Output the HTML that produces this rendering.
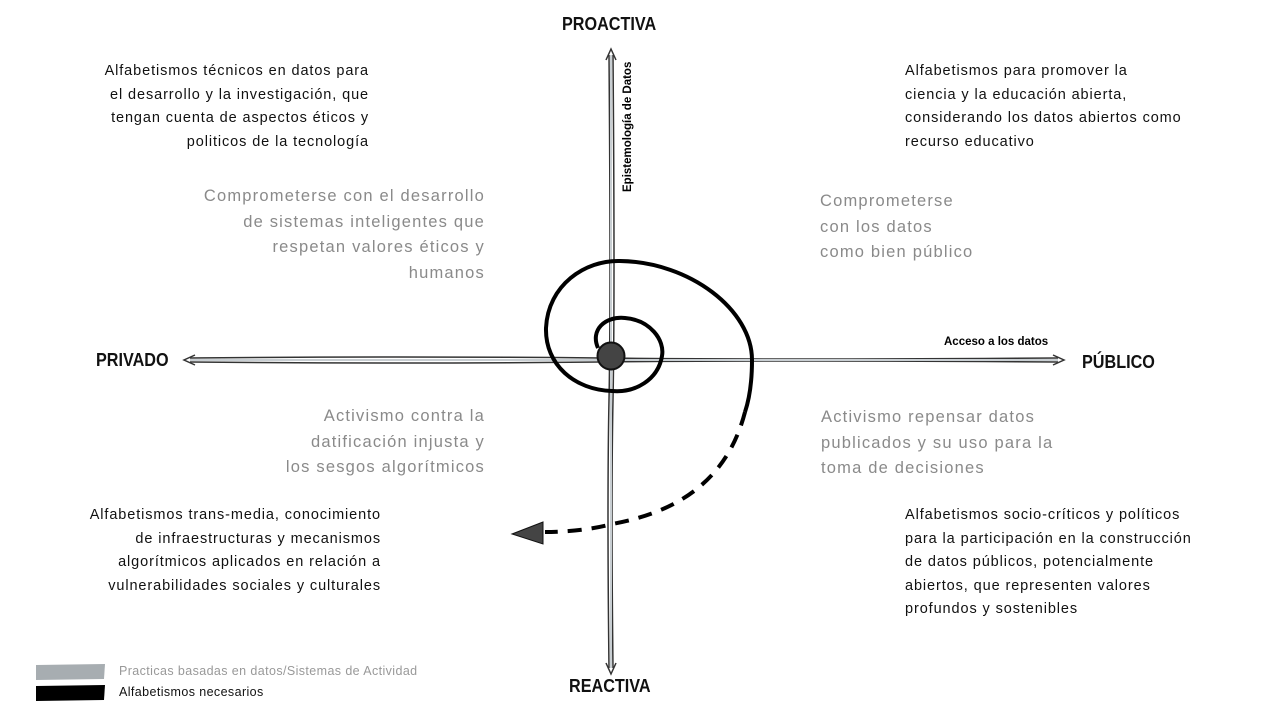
<!DOCTYPE html>
<html><head><meta charset="utf-8"><style>
body{margin:0;width:1280px;height:720px;background:#fff;position:relative;overflow:hidden;font-family:"Liberation Sans",sans-serif}
.t{position:absolute;font-size:14.5px;line-height:23.5px;color:#111;letter-spacing:0.9px;white-space:nowrap}
.g{position:absolute;font-size:16.5px;line-height:25.5px;color:#8a8a8a;letter-spacing:1.2px;white-space:nowrap}
.h{position:absolute;font-weight:bold;font-size:18px;color:#111;transform:scaleX(0.9);transform-origin:left}
.r{text-align:right}
</style></head><body>
<svg width="1280" height="720" style="position:absolute;left:0;top:0">
<g stroke="#333" fill="none" stroke-width="1.5">
<path d="M190 358 Q400 356 600 358 T1058 358"/>
<path d="M190 362 Q400 364 600 362 T1058 362"/>
<path d="M609 55 Q611 300 609 400 T609 668"/>
<path d="M613 55 Q615 300 613 400 T613 668"/>
</g>
<line x1="190" y1="360" x2="1058" y2="360" stroke="#c8ced2" stroke-width="2"/>
<line x1="611" y1="55" x2="611" y2="668" stroke="#c8ced2" stroke-width="2"/>
<path d="M195 355 L184 360 L195 365" fill="none" stroke="#333" stroke-width="1.5"/>
<path d="M1053 355 L1064 360 L1053 365" fill="none" stroke="#333" stroke-width="1.5"/>
<path d="M606 60 L611 49 L616 60" fill="none" stroke="#333" stroke-width="1.5"/>
<path d="M606 663 L611 674 L616 663" fill="none" stroke="#333" stroke-width="1.5"/>
<path d="M598 348 C590 330 605 316 625 318 C650 320 665 340 662 356 C658 380 635 393 612 391 C575 390 545 365 546 328 C548 285 585 260 620 261 C690 262 752 310 752 360 C752 385 749 400 745 412" fill="none" stroke="#000" stroke-width="4"/>
<path d="M745 412 C730 470 690 510 612 524 C590 530 565 532 545 532" fill="none" stroke="#000" stroke-width="4" stroke-dasharray="14,10"/>
<path d="M512 534 L543 522 L543 544 Z" fill="#444" stroke="#111" stroke-width="1"/>
<circle cx="611" cy="356" r="13.5" fill="#444" stroke="#111" stroke-width="2"/>
<path d="M36 665 L105 664 L104 679 L36 680 Z" fill="#a7adb1"/>
<path d="M36 686 L105 685 L104 700 L36 701 Z" fill="#000"/>
</svg>
<div class="h" style="left:562px;top:14px">PROACTIVA</div>
<div class="h" style="left:569px;top:676px">REACTIVA</div>
<div class="h" style="left:96px;top:350px">PRIVADO</div>
<div class="h" style="left:1082px;top:352px">PÚBLICO</div>
<div style="position:absolute;left:944px;top:336px;font-size:11.5px;font-weight:bold">Acceso a los datos</div>
<div style="position:absolute;left:622px;top:192px;font-size:11.5px;font-weight:bold;transform:rotate(-90deg);transform-origin:left top;white-space:nowrap">Epistemología de Datos</div>
<div class="t r" style="right:911px;top:60px;width:320px">Alfabetismos técnicos en datos para<br>el desarrollo y la investigación, que<br>tengan cuenta de aspectos éticos y<br>politicos de la tecnología</div>
<div class="t" style="left:905px;top:60px">Alfabetismos para promover la<br>ciencia y la educación abierta,<br>considerando los datos abiertos como<br>recurso educativo</div>
<div class="g r" style="right:795px;top:184px;width:320px">Comprometerse con el desarrollo<br>de sistemas inteligentes que<br>respetan valores éticos y<br>humanos</div>
<div class="g" style="left:820px;top:189px">Comprometerse<br>con los datos<br>como bien público</div>
<div class="g r" style="right:795px;top:404px;width:320px">Activismo contra la<br>datificación injusta y<br>los sesgos algorítmicos</div>
<div class="g" style="left:821px;top:405px">Activismo repensar datos<br>publicados y su uso para la<br>toma de decisiones</div>
<div class="t r" style="right:899px;top:504px;width:340px">Alfabetismos trans-media, conocimiento<br>de infraestructuras y mecanismos<br>algorítmicos aplicados en relación a<br>vulnerabilidades sociales y culturales</div>
<div class="t" style="left:905px;top:504px">Alfabetismos socio-críticos y políticos<br>para la participación en la construcción<br>de datos públicos, potencialmente<br>abiertos, que representen valores<br>profundos y sostenibles</div>
<div style="position:absolute;left:119px;top:664px;font-size:12.5px;color:#999;letter-spacing:0.4px">Practicas basadas en datos/Sistemas de Actividad</div>
<div style="position:absolute;left:119px;top:685px;font-size:12.5px;color:#111;letter-spacing:0.4px">Alfabetismos necesarios</div>
</body></html>
